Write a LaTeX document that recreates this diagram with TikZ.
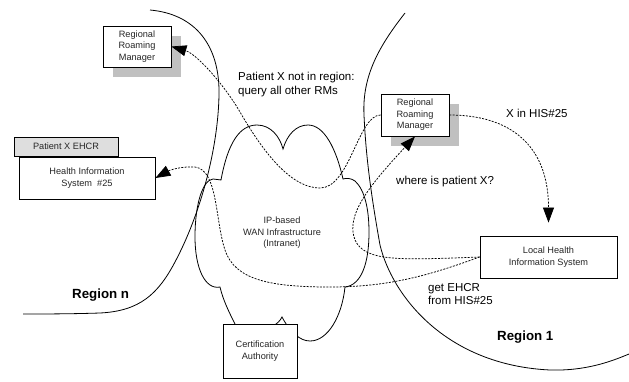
\documentclass[tikz,border=0pt]{standalone}
\usepackage{fontspec}
\setmainfont{Liberation Sans}
\usetikzlibrary{arrows.meta,shadows}
\definecolor{shadowgray}{HTML}{C0C0C0}
\definecolor{tabgray}{HTML}{DEDEDE}
\begin{document}
\begin{tikzpicture}[x=1pt,y=-1pt,
  boxtext/.style={font=\fontsize{9.2}{11.5}\selectfont, align=center, text=black!85},
  sysbox/.style={draw, fill=white, line width=0.8pt, boxtext, inner sep=0pt},
  rmbox/.style={sysbox, minimum width=68pt, minimum height=41pt,
    drop shadow={shadow xshift=10pt, shadow yshift=-10pt, fill=shadowgray, opacity=1}},
  msg/.style={line width=0.75pt, dash pattern=on 2pt off 1.3pt,
    -{Triangle[length=15pt,width=11pt]}},
  regionline/.style={line width=0.8pt},
  msgtext/.style={font=\fontsize{11.5}{13.5}\selectfont, align=left, inner sep=0pt},
  regionlabel/.style={font=\fontsize{13.3}{15}\selectfont\bfseries, inner sep=0pt}
]
\useasboundingbox (0,0) rectangle (629,381);

% region borders
\draw[regionline] (150,10) .. controls (195,14) and (220,45) .. (219,95)
  .. controls (218,150) and (200,215) .. (175,262)
  .. controls (158,294) and (140,311) .. (100,313)
  .. controls (70,314) and (40,314) .. (23,314);
\draw[regionline] (405,13) .. controls (380,45) and (362,75) .. (364,115)
  .. controls (366,160) and (372,200) .. (380,245)
  .. controls (392,295) and (445,365) .. (550,370)
  .. controls (585,371) and (610,362) .. (629,354);

% WAN cloud
\draw[regionline] (221,180)
  .. controls (228,142) and (240,125) .. (257,125)
  .. controls (271,125) and (280,137) .. (283,149)
  .. controls (287,135) and (296,125) .. (308,125)
  .. controls (324,125) and (336,148) .. (343,179)
  .. controls (346,178) and (351,178) .. (355,181)
  .. controls (365,190) and (369,210) .. (369,232)
  .. controls (369,262) and (362,285) .. (345,287)
  .. controls (342,316) and (328,341) .. (310,341)
  .. controls (300,341) and (290,332) .. (282,317)
  .. controls (275,332) and (242,337) .. (235,324)
  .. controls (229,312) and (223,300) .. (220,287)
  .. controls (205,290) and (195,268) .. (195,237)
  .. controls (195,203) and (203,180) .. (213,179)
  .. controls (216,179) and (219,180) .. (221,180) -- cycle;

% systems
\node[rmbox] (rrmA) at (137,46.5) {Regional\\Roaming\\Manager};
\node[rmbox, minimum height=42pt] (rrmB) at (415,115) {Regional\\Roaming\\Manager};
\node[sysbox, fill=tabgray, minimum width=104pt, minimum height=19pt] (tab) at (66,146.5) {Patient X EHCR};
\node[sysbox, minimum width=136pt, minimum height=42pt] (his) at (87,178) {Health Information\\System\ \ \#25};
\node[sysbox, minimum width=137pt, minimum height=42pt] (lhis) at (548.5,257) {Local Health\\Information System};
\node[sysbox, minimum width=74pt, minimum height=54pt] (ca) at (260,351) {Certification\\Authority};
\node[boxtext] (wan) at (282,233) {IP-based\\WAN Infrastructure\\(Intranet)};

% labels
\node[msgtext, anchor=west] (query) at (238,84.5) {Patient X not in region:\\query all other RMs};
\node[msgtext, anchor=base west] (xin) at (506,117) {X in HIS\#25};
\node[msgtext, anchor=base west] (where) at (396,184) {where is patient X?};
\node[msgtext, anchor=west] (get) at (428,294) {get EHCR\\from HIS\#25};
\node[regionlabel, anchor=base west] (rn) at (72,298) {Region n};
\node[regionlabel, anchor=base west] (r1) at (497,340) {Region 1};

% messages
\draw[msg] (rrmB.west) .. controls (358,115) and (350,188) .. (320,188)
  .. controls (290,188) and (262,150) .. (240,112)
  .. controls (225,86) and (197,54) .. (rrmA.east);
\draw[msg, shorten >=13pt] (rrmB.east) .. controls (510,115) and (548.5,145) .. (lhis.north);
\draw[msg] (lhis.west) .. controls (400,260) and (365,262) .. (355,240)
  .. controls (345,215) and (370,185) .. (rrmB.south);
\draw[msg] (lhis.west) .. controls (430,275) and (390,287) .. (330,287)
  .. controls (270,287) and (235,280) .. (225,250)
  .. controls (215,220) and (218,170) .. (195,167)
  .. controls (180,166) and (168,171) .. (his.east);
\end{tikzpicture}
\end{document}
